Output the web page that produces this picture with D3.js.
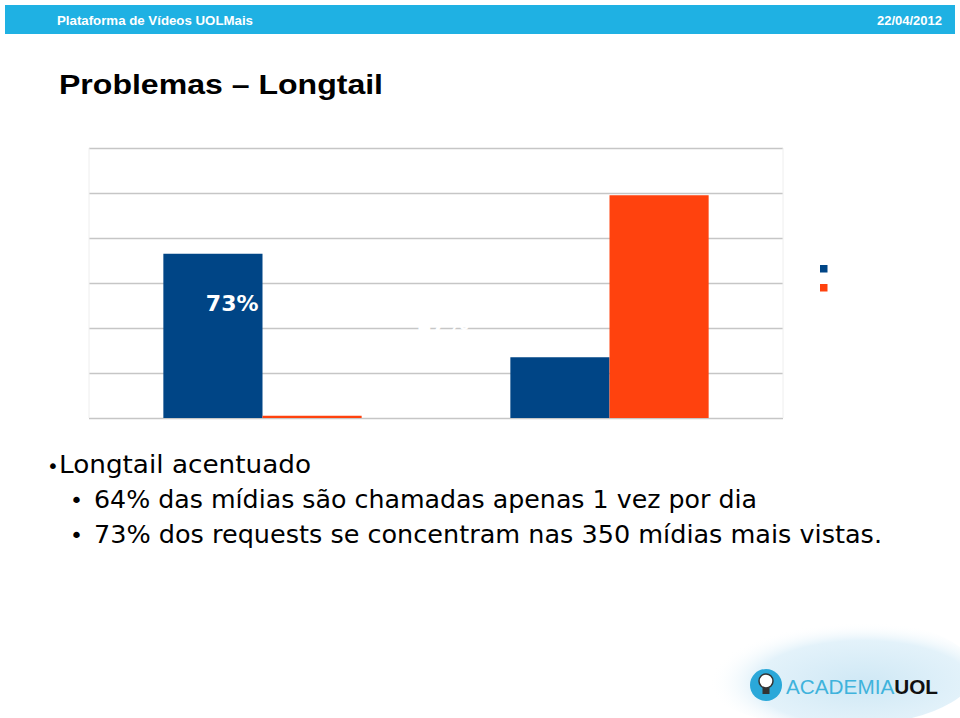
<!DOCTYPE html>
<html><head><meta charset="utf-8">
<script src="https://cdn.jsdelivr.net/npm/d3@7"></script>
<style>html,body{margin:0;padding:0;background:#fff;}svg{display:block;}</style>
</head><body>
<svg id="c" width="960" height="718"></svg>
<script>
const categories = ["Grupo 1", "Grupo 2"];
const seriesNames = ["Requests", "Mídias"];
const seriesA = [73, 27];
const seriesB = [1, 99];
const labelsA = ["73%", "27%"];
const yTicks = [0, 20, 40, 60, 80, 100, 120];
const colors = ["#004586", "#ff420e"];

const svg = d3.select("#c");

// header bar
svg.append("rect").attr("x",5).attr("y",5).attr("width",950).attr("height",29).attr("fill","#1fb1e3");
svg.append("text").attr("x",57).attr("y",24.5).attr("fill","#fff")
  .style("font-family","Liberation Sans, Arial, sans-serif").style("font-weight","bold").style("font-size","13px")
  .attr("textLength",196).attr("lengthAdjust","spacingAndGlyphs")
  .text("Plataforma de Vídeos UOLMais");
svg.append("text").attr("x",942).attr("y",24.5).attr("fill","#fff").attr("text-anchor","end")
  .style("font-family","Liberation Sans, Arial, sans-serif").style("font-weight","bold").style("font-size","13px")
  .text("22/04/2012");

// title
svg.append("text").attr("x",59).attr("y",94).attr("fill","#000")
  .style("font-family","Liberation Sans, Arial, sans-serif").style("font-weight","bold").style("font-size","27px")
  .attr("textLength",324).attr("lengthAdjust","spacingAndGlyphs")
  .text("Problemas – Longtail");

// chart
const L = 89, R = 783, T = 148, B = 418;
const x0 = d3.scaleBand().domain(categories).range([L, R]).paddingInner(0).paddingOuter(0);
const x1 = d3.scaleBand().domain(seriesNames).range([0, x0.bandwidth()]).paddingInner(0).paddingOuter(0.75);
const y = d3.scaleLinear().domain([0, 120]).range([B, T]);

const g = svg.append("g");
g.append("g").attr("transform",`translate(${L},0)`)
  .call(d3.axisLeft(y).tickValues(yTicks).tickSize(-(R-L)).tickFormat(""))
  .call(s => s.select(".domain").remove())
  .call(s => s.selectAll(".tick line").attr("stroke","#c6c6c6").attr("stroke-width",1.6));
g.append("line").attr("x1",L).attr("x2",L).attr("y1",T).attr("y2",B).attr("stroke","#eeeeee");
g.append("line").attr("x1",R).attr("x2",R).attr("y1",T).attr("y2",B).attr("stroke","#eeeeee");

const rows = categories.map((c,i)=>({cat:c, vals:[seriesA[i], seriesB[i]]}));
const grp = g.selectAll(".grp").data(rows).join("g").attr("transform",d=>`translate(${x0(d.cat)},0)`);
grp.selectAll("rect").data(d=>d.vals.map((v,j)=>({v, s:seriesNames[j], j})))
  .join("rect")
  .attr("x",d=>x1(d.s)).attr("width",x1.bandwidth())
  .attr("y",d=>y(d.v)).attr("height",d=>B-y(d.v))
  .attr("fill",d=>colors[d.j]);

// data labels (white, as in the source)
const lab = g.selectAll(".lab").data(rows).join("text")
  .attr("fill","#fff").attr("text-anchor","end")
  .style("font-family","DejaVu Sans, sans-serif").style("font-weight","bold").style("font-size","22px")
  .text((d,i)=>labelsA[i]);
lab.attr("x",(d,i)=> i===0 ? x0(d.cat)+x1(seriesNames[0])+x1.bandwidth()-4 : x0(d.cat)+x1(seriesNames[0])-41)
   .attr("y",(d,i)=> i===0 ? y(47.5) : y(39));

// legend squares
seriesNames.forEach((s,j)=>{
  svg.append("rect").attr("x",820).attr("y",265+j*19).attr("width",7.5).attr("height",7.5).attr("fill",colors[j]);
});

// bullet text
const tf = "DejaVu Sans, Verdana, sans-serif";
const bl = svg.append("g").style("font-family",tf).attr("fill","#000");
bl.append("text").attr("x",47).attr("y",473).style("font-size","20px").text("•");
bl.append("text").attr("x",59).attr("y",473).style("font-size","24px")
  .attr("textLength",252).attr("lengthAdjust","spacingAndGlyphs").text("Longtail acentuado");
bl.append("text").attr("x",70).attr("y",508).style("font-size","22px").text("•");
bl.append("text").attr("x",94).attr("y",508).style("font-size","24px")
  .attr("textLength",663).attr("lengthAdjust","spacingAndGlyphs").text("64% das mídias são chamadas apenas 1 vez por dia");
bl.append("text").attr("x",70).attr("y",543).style("font-size","22px").text("•");
bl.append("text").attr("x",94).attr("y",543).style("font-size","24px")
  .attr("textLength",788).attr("lengthAdjust","spacingAndGlyphs").text("73% dos requests se concentram nas 350 mídias mais vistas.");

// logo
const defs = svg.append("defs");
const grad = defs.append("radialGradient").attr("id","cloud").attr("cx","60%").attr("cy","60%").attr("r","55%");
grad.append("stop").attr("offset","0%").attr("stop-color","#cfe8f5");
grad.append("stop").attr("offset","70%").attr("stop-color","#e3f2fa");
grad.append("stop").attr("offset","100%").attr("stop-color","#ffffff").attr("stop-opacity",0);
svg.append("ellipse").attr("cx",835).attr("cy",672).attr("rx",140).attr("ry",55).attr("fill","url(#cloud)");
svg.append("circle").attr("cx",766).attr("cy",685).attr("r",16).attr("fill","#2ba8d9");
svg.append("circle").attr("cx",766).attr("cy",681).attr("r",7).attr("fill","#fff").attr("stroke","#333").attr("stroke-width",1.5);
svg.append("rect").attr("x",762.5).attr("y",688).attr("width",7).attr("height",6).attr("fill","#333");
const logo = svg.append("text").attr("x",786).attr("y",694)
  .style("font-family","Liberation Sans, Arial, sans-serif").style("font-size","21px")
  .attr("textLength",152).attr("lengthAdjust","spacingAndGlyphs");
logo.append("tspan").attr("fill","#3fb3dc").style("font-weight","300").text("ACADEMIA");
logo.append("tspan").attr("fill","#111").style("font-weight","900").text("UOL");
</script>
</body></html>
